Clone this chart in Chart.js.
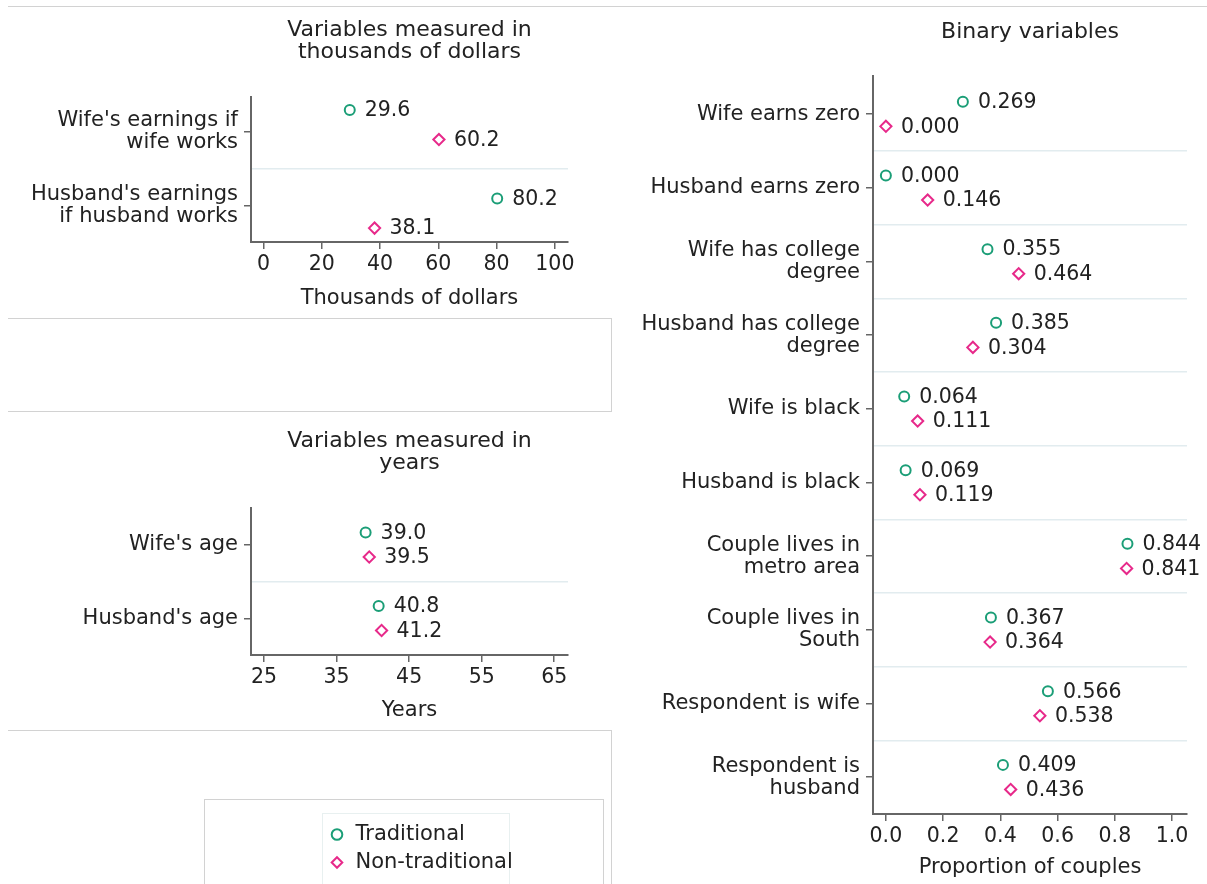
<!DOCTYPE html>
<html>
<head>
<meta charset="utf-8">
<title>Traditional vs non-traditional couples</title>
<script src="https://cdn.jsdelivr.net/npm/chart.js@4.4.1/dist/chart.umd.min.js"></script>
<style>
  body { margin: 0; background: #fff; width: 1207px; height: 884px; overflow: hidden; position: relative; }
  canvas { position: absolute; }
  .frame { position: absolute; border: 0 solid #d2d2d2; }
</style>
</head>
<body>
<div class="frame" style="left:8px; top:6px; width:1199px; height:0; border-top-width:1px;"></div>
<div class="frame" style="left:8px; top:318px; width:603px; height:92px; border-top-width:1px; border-right-width:1px; border-bottom-width:1px;"></div>
<div class="frame" style="left:8px; top:730px; width:603px; height:160px; border-top-width:1px; border-right-width:1px;"></div>
<div class="frame" style="left:204px; top:799px; width:398px; height:100px; border-width:1px;"></div>
<div class="frame" style="left:322px; top:813px; width:186px; height:90px; border-width:1px; border-color:#e8f0f0;"></div>

<canvas id="moneyChart" width="600" height="320" style="left:0; top:0;"></canvas>
<canvas id="yearChart" width="600" height="322" style="left:0; top:411px;"></canvas>
<canvas id="binaryChart" width="587" height="884" style="left:620px; top:0;"></canvas>
<canvas id="legendChart" width="215" height="80" style="left:322px; top:817px;"></canvas>

<script>
// data
const moneyCats = [["Wife's earnings if", "wife works"], ["Husband's earnings", "if husband works"]];
const moneyTrad = [29.6, 80.2];
const moneyNon = [60.2, 38.1];
const moneyTicks = [0, 20, 40, 60, 80, 100];

const yearCats = ["Wife's age", "Husband's age"];
const yearTrad = [39.0, 40.8];
const yearNon = [39.5, 41.2];
const yearTicks = [25, 35, 45, 55, 65];

const binCats = [
    "Wife earns zero",
    "Husband earns zero",
    ["Wife has college", "degree"],
    ["Husband has college", "degree"],
    "Wife is black",
    "Husband is black",
    ["Couple lives in", "metro area"],
    ["Couple lives in", "South"],
    "Respondent is wife",
    ["Respondent is", "husband"]
];
const binTrad = [0.269, 0.000, 0.355, 0.385, 0.064, 0.069, 0.844, 0.367, 0.566, 0.409];
const binNon = [0.000, 0.146, 0.464, 0.304, 0.111, 0.119, 0.841, 0.364, 0.538, 0.436];
const binTicks = [0, 0.2, 0.4, 0.6, 0.8, 1.0];

const seriesNames = ["Traditional", "Non-traditional"];

const GREEN = '#1b9e77';
const PINK = '#e7298a';
const AXIS = '#666';
const TEXT = '#222';
const FONT = 'DejaVu Sans';

Chart.defaults.font.family = FONT;
Chart.defaults.font.size = 21;
Chart.defaults.color = TEXT;

// each category gets two rows (traditional, non-traditional) then a separator row
const isSep = v => Number.isInteger(v) && v % 3 === 2;

// number labels next to the markers
const valueLabels = {
    id: 'valueLabels',
    afterDatasetsDraw(chart, args, opts) {
        const ctx = chart.ctx;
        ctx.save();
        ctx.font = '20.5px "' + FONT + '"';
        ctx.fillStyle = TEXT;
        ctx.textBaseline = 'middle';
        chart.data.datasets.forEach((ds, di) => {
            chart.getDatasetMeta(di).data.forEach((pt, i) => {
                ctx.fillText(ds.data[i].x.toFixed(opts.digits), pt.x + 15, pt.y + 1);
            });
        });
        ctx.restore();
    }
};

function dotChart(id, cfg) {
    const n = cfg.cats.length;
    const yTicks = [];
    for (let i = 0; i < n; i++) {
        yTicks.push(cfg.tickPos ? cfg.tickPos[i] : 3 * i + 0.5);
        if (i < n - 1) yTicks.push(3 * i + 2);
    }

    return new Chart(document.getElementById(id), {
        type: 'scatter',
        data: {
            datasets: [
                {
                    label: seriesNames[0],
                    data: cfg.trad.map((v, i) => ({x: v, y: 3 * i})),
                    pointStyle: 'circle',
                    pointRadius: 5,
                    borderWidth: 2,
                    borderColor: GREEN,
                    backgroundColor: 'rgba(0,0,0,0)'
                },
                {
                    label: seriesNames[1],
                    data: cfg.non.map((v, i) => ({x: v, y: 3 * i + 1})),
                    pointStyle: 'rectRot',
                    pointRadius: 5.6,
                    borderWidth: 2,
                    borderColor: PINK,
                    backgroundColor: 'rgba(0,0,0,0)'
                }
            ]
        },
        plugins: [valueLabels],
        options: {
            responsive: false,
            animation: false,
            events: [],
            layout: { padding: { left: 0, right: cfg.padRight, top: 0, bottom: 0 } },
            plugins: {
                legend: { display: false },
                tooltip: { enabled: false },
                valueLabels: { digits: cfg.digits },
                title: {
                    display: true,
                    text: cfg.title,
                    fullSize: false,
                    color: TEXT,
                    font: { size: 22, weight: 'normal', lineHeight: 1.0 },
                    padding: { top: cfg.titleTop, bottom: cfg.titleBottom }
                }
            },
            scales: {
                x: {
                    type: 'linear',
                    min: cfg.xMin,
                    max: cfg.xMax,
                    afterBuildTicks: s => { s.ticks = cfg.xTicks.map(v => ({value: v})); },
                    afterFit: s => { s.height = cfg.xAxisHeight; },
                    border: { display: true, color: AXIS, width: 2 },
                    grid: { drawOnChartArea: false, drawTicks: true, tickLength: 7, color: AXIS, lineWidth: 1.5 },
                    ticks: {
                        autoSkip: false,
                        maxRotation: 0,
                        padding: 3,
                        color: TEXT,
                        font: { size: 20.5 },
                        callback: v => v.toFixed(cfg.xDigits)
                    },
                    title: {
                        display: true,
                        text: cfg.xTitle,
                        color: TEXT,
                        font: { size: 21, lineHeight: 1.05 },
                        padding: { top: 0, bottom: cfg.xTitleBottom }
                    }
                },
                y: {
                    type: 'linear',
                    reverse: true,
                    min: cfg.yMin,
                    max: cfg.yMax,
                    afterBuildTicks: s => { s.ticks = yTicks.map(v => ({value: v})); },
                    afterFit: s => { s.width = cfg.yAxisWidth; },
                    border: { display: true, color: AXIS, width: 2 },
                    grid: {
                        drawOnChartArea: true,
                        drawTicks: true,
                        tickLength: 7,
                        lineWidth: 1.5,
                        color: c => isSep(c.tick.value) ? '#e2ecef' : 'rgba(0,0,0,0)',
                        tickColor: c => isSep(c.tick.value) ? 'rgba(0,0,0,0)' : AXIS
                    },
                    ticks: {
                        autoSkip: false,
                        padding: 6,
                        color: TEXT,
                        font: { size: 21, lineHeight: 1.05 },
                        callback: v => isSep(v) ? '' : cfg.cats[Math.floor(v / 3)]
                    }
                }
            }
        }
    });
}

// thousands of dollars panel
dotChart('moneyChart', {
    title: ['Variables measured in', 'thousands of dollars'],
    cats: moneyCats, trad: moneyTrad, non: moneyNon,
    xTicks: moneyTicks, xMin: -4.3, xMax: 104.5, xDigits: 0, digits: 1,
    xTitle: 'Thousands of dollars',
    yMin: -0.44, yMax: 4.47, tickPos: [0.74, 3.25],
    titleTop: 19, titleBottom: 34, yAxisWidth: 251, xAxisHeight: 78,
    xTitleBottom: 10, padRight: 32
});

// years panel
dotChart('yearChart', {
    title: ['Variables measured in', 'years'],
    cats: yearCats, trad: yearTrad, non: yearNon,
    xTicks: yearTicks, xMin: 23.2, xMax: 66.9, xDigits: 0, digits: 1,
    xTitle: 'Years',
    yMin: -1, yMax: 5,
    titleTop: 19, titleBottom: 34, yAxisWidth: 251, xAxisHeight: 78,
    xTitleBottom: 11, padRight: 32
});

// binary variables panel
dotChart('binaryChart', {
    title: 'Binary variables',
    cats: binCats, trad: binTrad, non: binNon,
    xTicks: binTicks, xMin: -0.045, xMax: 1.052, xDigits: 1, digits: 3,
    xTitle: 'Proportion of couples',
    yMin: -1.05, yMax: 29,
    titleTop: 21, titleBottom: 33, yAxisWidth: 253, xAxisHeight: 70,
    xTitleBottom: 5, padRight: 20
});

// legend on its own small canvas
new Chart(document.getElementById('legendChart'), {
    type: 'scatter',
    data: {
        datasets: [
            { label: seriesNames[0], data: [], pointStyle: 'circle', borderWidth: 2, borderColor: GREEN, backgroundColor: 'rgba(0,0,0,0)' },
            { label: seriesNames[1], data: [], pointStyle: 'rectRot', borderWidth: 2, borderColor: PINK, backgroundColor: 'rgba(0,0,0,0)' }
        ]
    },
    options: {
        responsive: false,
        animation: false,
        events: [],
        layout: { padding: 0 },
        scales: { x: { display: false }, y: { display: false } },
        plugins: {
            tooltip: { enabled: false },
            legend: {
                position: 'top',
                align: 'start',
                maxHeight: 80,
                labels: {
                    usePointStyle: true,
                    boxWidth: 16,
                    boxHeight: 7.5,
                    padding: 7,
                    color: TEXT,
                    font: { size: 21 }
                }
            }
        }
    }
});
</script>
</body>
</html>
